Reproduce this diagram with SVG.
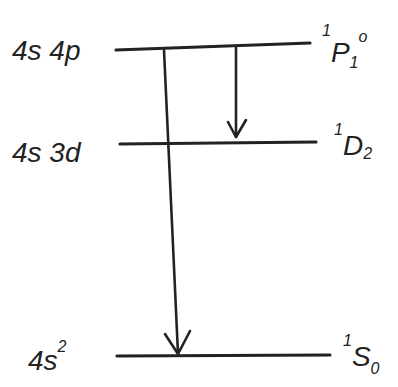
<svg xmlns="http://www.w3.org/2000/svg" width="398" height="387" viewBox="0 0 398 387">
<style>
.lvl{stroke:#222;stroke-width:3.2;stroke-linecap:round;fill:none}
.arr{stroke:#222;stroke-width:2.6;stroke-linecap:round;stroke-linejoin:round;fill:none}
.t{font-family:"Liberation Sans",Arial,sans-serif;font-style:italic;fill:#222;font-size:28px}
.s{font-size:16px}
</style>
<rect width="398" height="387" fill="#fff"/>
<g id="level-4s4p">
<path class="lvl" d="M116 50 L310 43"/>
<text class="t" x="12" y="60">4s 4p</text>
<text class="t" x="322" y="62"><tspan class="s" dy="-26">1</tspan><tspan dy="26">P</tspan><tspan class="s" dy="6">1</tspan><tspan class="s" dy="-26">o</tspan></text>
</g>
<g id="level-4s3d">
<path class="lvl" d="M120 144 L316 142"/>
<text class="t" x="12" y="162">4s 3d</text>
<text class="t" x="334" y="155"><tspan class="s" dy="-20">1</tspan><tspan dy="20">D</tspan><tspan class="s" dy="4">2</tspan></text>
</g>
<g id="level-4s2">
<path class="lvl" d="M117 356 L330 355"/>
<text class="t" x="28" y="370">4s<tspan class="s" dy="-18">2</tspan></text>
<text class="t" x="343" y="366"><tspan class="s" dy="-20">1</tspan><tspan dy="20">S</tspan><tspan class="s" dy="8">0</tspan></text>
</g>
<g id="connectors">
<path class="arr" d="M164 50 L178 354"/>
<path class="arr" d="M165 334 L178 354 L190 331"/>
<path class="arr" d="M236 48 L236 137"/>
<path class="arr" d="M228 122 L236 137 L246 120"/>
</g>
</svg>
